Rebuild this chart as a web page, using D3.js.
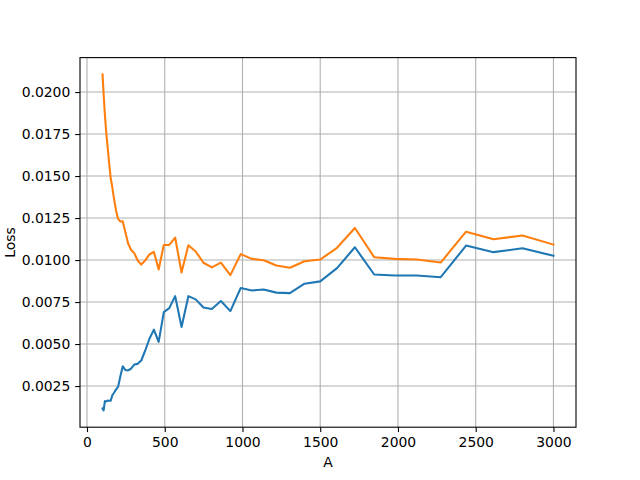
<!DOCTYPE html>
<html>
<head>
<meta charset="utf-8">
<script src="https://cdn.jsdelivr.net/npm/d3@7"></script>
<style>
  body { margin: 0; background: #fff; }
  text { font-family: "DejaVu Sans", sans-serif; fill: #000; }
</style>
</head>
<body>
<script>
// sample sizes (x) and the two loss series
var xValues = [100, 107, 115, 123, 132, 141, 152, 163, 174, 187,
               200, 215, 230, 247, 264, 283, 304, 326, 349, 374,
               401, 430, 461, 494, 529, 567, 608, 652, 699, 749,
               803, 861, 922, 989, 1060, 1136, 1218, 1305, 1399, 1500,
               1608, 1723, 1847, 1980, 2122, 2275, 2438, 2614, 2801, 3000];

var lossBlue = [0.00117, 0.00105, 0.00160, 0.00158, 0.00163, 0.00162, 0.00162, 0.00195, 0.00210, 0.00230,
                0.00245, 0.00310, 0.00368, 0.00345, 0.00343, 0.00353, 0.00378, 0.00382, 0.00402, 0.00460,
                0.00530, 0.00586, 0.00513, 0.00690, 0.00714, 0.00785, 0.00602, 0.00785, 0.00766, 0.00717,
                0.00709, 0.00756, 0.00696, 0.00834, 0.00819, 0.00825, 0.00806, 0.00803, 0.00859, 0.00873,
                0.00952, 0.01076, 0.00914, 0.00908, 0.00908, 0.00898, 0.01086, 0.01047, 0.01070, 0.01025];

var lossOrange = [0.02105, 0.01986, 0.01867, 0.01768, 0.01679, 0.01590, 0.01491, 0.01432, 0.01363, 0.01294,
                  0.01245, 0.01229, 0.01230, 0.01165, 0.01100, 0.01061, 0.01041, 0.00997, 0.00973, 0.00997,
                  0.01033, 0.01049, 0.00944, 0.01090, 0.01090, 0.01134, 0.00926, 0.01088, 0.01051, 0.00984,
                  0.00956, 0.00985, 0.00910, 0.01035, 0.01007, 0.00999, 0.00968, 0.00954, 0.00993, 0.01003,
                  0.01073, 0.01191, 0.01017, 0.01007, 0.01003, 0.00985, 0.01169, 0.01124, 0.01146, 0.01092];

var xTicks = [0, 500, 1000, 1500, 2000, 2500, 3000];
var yTicks = [0.0025, 0.0050, 0.0075, 0.0100, 0.0125, 0.0150, 0.0175, 0.0200];

var width = 640;
var height = 480;
var margin = {left: 80, right: 64, top: 57.6, bottom: 52.8};
var plotW = width - margin.left - margin.right;
var plotH = height - margin.top - margin.bottom;

// matplotlib style 5% padding on the data range
var xMin = d3.min(xValues), xMax = d3.max(xValues);
var xPad = (xMax - xMin) * 0.05;
var allY = lossBlue.concat(lossOrange);
var yMin = d3.min(allY), yMax = d3.max(allY);
var yPad = (yMax - yMin) * 0.05;

var x = d3.scaleLinear().domain([xMin - xPad, xMax + xPad]).range([0, plotW]);
var y = d3.scaleLinear().domain([yMin - yPad, yMax + yPad]).range([plotH, 0]);

var svg = d3.select("body").append("svg")
            .attr("width", width)
            .attr("height", height);

var g = svg.append("g")
           .attr("transform", "translate(" + margin.left + "," + margin.top + ")");

// grid
g.selectAll(".gx").data(xTicks).enter().append("line")
  .attr("x1", function(d){ return x(d); })
  .attr("x2", function(d){ return x(d); })
  .attr("y1", 0).attr("y2", plotH)
  .attr("stroke", "#b0b0b0").attr("stroke-width", 1.1);

g.selectAll(".gy").data(yTicks).enter().append("line")
  .attr("x1", 0).attr("x2", plotW)
  .attr("y1", function(d){ return y(d); })
  .attr("y2", function(d){ return y(d); })
  .attr("stroke", "#b0b0b0").attr("stroke-width", 1.1);

// lines
var line = d3.line()
             .x(function(d){ return x(d[0]); })
             .y(function(d){ return y(d[1]); });

var series = [
  {color: "#1f77b4", values: d3.zip(xValues, lossBlue)},
  {color: "#ff7f0e", values: d3.zip(xValues, lossOrange)}
];

g.selectAll(".series").data(series).enter().append("path")
  .attr("d", function(d){ return line(d.values); })
  .attr("fill", "none")
  .attr("stroke", function(d){ return d.color; })
  .attr("stroke-width", 2.08)
  .attr("stroke-linejoin", "round")
  .attr("stroke-linecap", "square");

// axes
var xAxis = d3.axisBottom(x).tickValues(xTicks).tickFormat(d3.format("d"))
              .tickSize(4.86).tickPadding(4.86);
var yAxis = d3.axisLeft(y).tickValues(yTicks).tickFormat(d3.format(".4f"))
              .tickSize(4.86).tickPadding(4.86);

var gx = g.append("g").attr("transform", "translate(0," + plotH + ")").call(xAxis);
var gy = g.append("g").call(yAxis);

[gx, gy].forEach(function(a){
  a.select(".domain").remove();
  a.selectAll(".tick line").attr("stroke", "#000").attr("stroke-width", 1.1);
  a.selectAll(".tick text").style("font-size", "13.9px").attr("fill", "#000");
});

// frame
g.append("rect")
  .attr("width", plotW).attr("height", plotH)
  .attr("fill", "none").attr("stroke", "#000").attr("stroke-width", 1.1);

// axis labels
svg.append("text")
   .attr("x", margin.left + plotW / 2)
   .attr("y", 467)
   .attr("text-anchor", "middle")
   .style("font-size", "13.9px")
   .text("A");

svg.append("text")
   .attr("transform", "translate(15," + (margin.top + plotH / 2) + ") rotate(-90)")
   .attr("text-anchor", "middle")
   .style("font-size", "13.9px")
   .text("Loss");
</script>
</body>
</html>
